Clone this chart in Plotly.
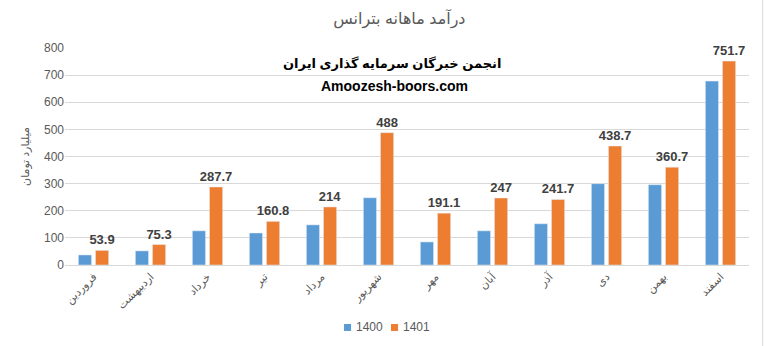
import plotly.graph_objects as go

# Monthly revenue (billion toman), fiscal years 1400 and 1401
months = ["فروردین", "اردیبهشت", "خرداد", "تیر", "مرداد", "شهریور",
          "مهر", "آبان", "آذر", "دی", "بهمن", "اسفند"]
rev_1400 = [37, 52, 126, 118, 148, 248, 85, 126, 152, 300, 296, 678]
rev_1401 = [53.9, 75.3, 287.7, 160.8, 214, 488, 191.1, 247, 241.7, 438.7, 360.7, 751.7]
series_names = ["1400", "1401"]
series_colors = ["#5b9bd5", "#ed7d31"]
y_ticks = [0, 100, 200, 300, 400, 500, 600, 700, 800]

FONT = "Liberation Sans, DejaVu Sans, sans-serif"
GRAY = "#595959"
GRID = "#d9d9d9"

fig = go.Figure()
fig.add_trace(go.Bar(
    x=months, y=rev_1400, name=series_names[0],
    marker_color=series_colors[0],
))
fig.add_trace(go.Bar(
    x=months, y=rev_1401, name=series_names[1],
    marker_color=series_colors[1],
    text=[f"{v:g}" for v in rev_1401],
    textposition="outside",
    textangle=0,
    constraintext="none",
    textfont=dict(family=FONT, size=13, color="#404040"),
    texttemplate="<b>%{text}</b>",
    cliponaxis=False,
))

# compact legend below the axis: small square swatch + series name
legend_shapes = []
legend_notes = []
swatch_x = [0.4079, 0.4766]
for name, color, x0 in zip(series_names, series_colors, swatch_x):
    legend_shapes.append(dict(type="rect", xref="paper", yref="paper",
                              x0=x0, x1=x0 + 0.0103, y0=-0.272, y1=-0.304,
                              fillcolor=color, line=dict(width=0)))
    legend_notes.append(dict(text=name, xref="paper", yref="paper",
                             x=x0 + 0.0146, y=-0.288, xanchor="left",
                             yanchor="middle", showarrow=False,
                             font=dict(family=FONT, size=12, color=GRAY)))

fig.update_layout(
    width=765, height=346,
    margin=dict(l=65, r=16, t=48, b=81),
    paper_bgcolor="white", plot_bgcolor="white",
    barmode="group", bargap=0.4, bargroupgap=0.23,
    showlegend=False,
    title=dict(text="درآمد ماهانه بترانس", x=0.522, xanchor="center",
               y=0.948, yanchor="middle",
               font=dict(family=FONT, size=16, color=GRAY)),
    font=dict(family=FONT, color=GRAY),
    xaxis=dict(tickangle=-45, tickfont=dict(family=FONT, size=11, color=GRAY),
               showline=True, linecolor=GRID, linewidth=1, ticks="",
               showgrid=False, automargin=False),
    yaxis=dict(range=[0, 800], tickvals=y_ticks, showgrid=True, gridcolor=GRID,
               gridwidth=1, zeroline=False, showline=False, ticks="",
               automargin=False,
               tickfont=dict(family=FONT, size=12, color=GRAY),
               title=dict(text="میلیارد تومان", standoff=12,
                          font=dict(family=FONT, size=11, color=GRAY))),
    annotations=[
        dict(text="<b>انجمن خبرگان سرمایه گذاری ایران</b>", xref="paper", yref="paper",
             x=0.478, y=0.971, showarrow=False,
             font=dict(family=FONT, size=13, color="black")),
        dict(text="<b>Amoozesh-boors.com</b>", xref="paper", yref="paper",
             x=0.482, y=0.869, showarrow=False,
             font=dict(family=FONT, size=14, color="black")),
    ] + legend_notes,
    shapes=[
        dict(type="line", xref="paper", yref="paper", x0=1.02, x1=1.02,
             y0=-0.38, y1=1.22, line=dict(color=GRID, width=1)),
    ] + legend_shapes,
)

fig.write_html("out.html")
